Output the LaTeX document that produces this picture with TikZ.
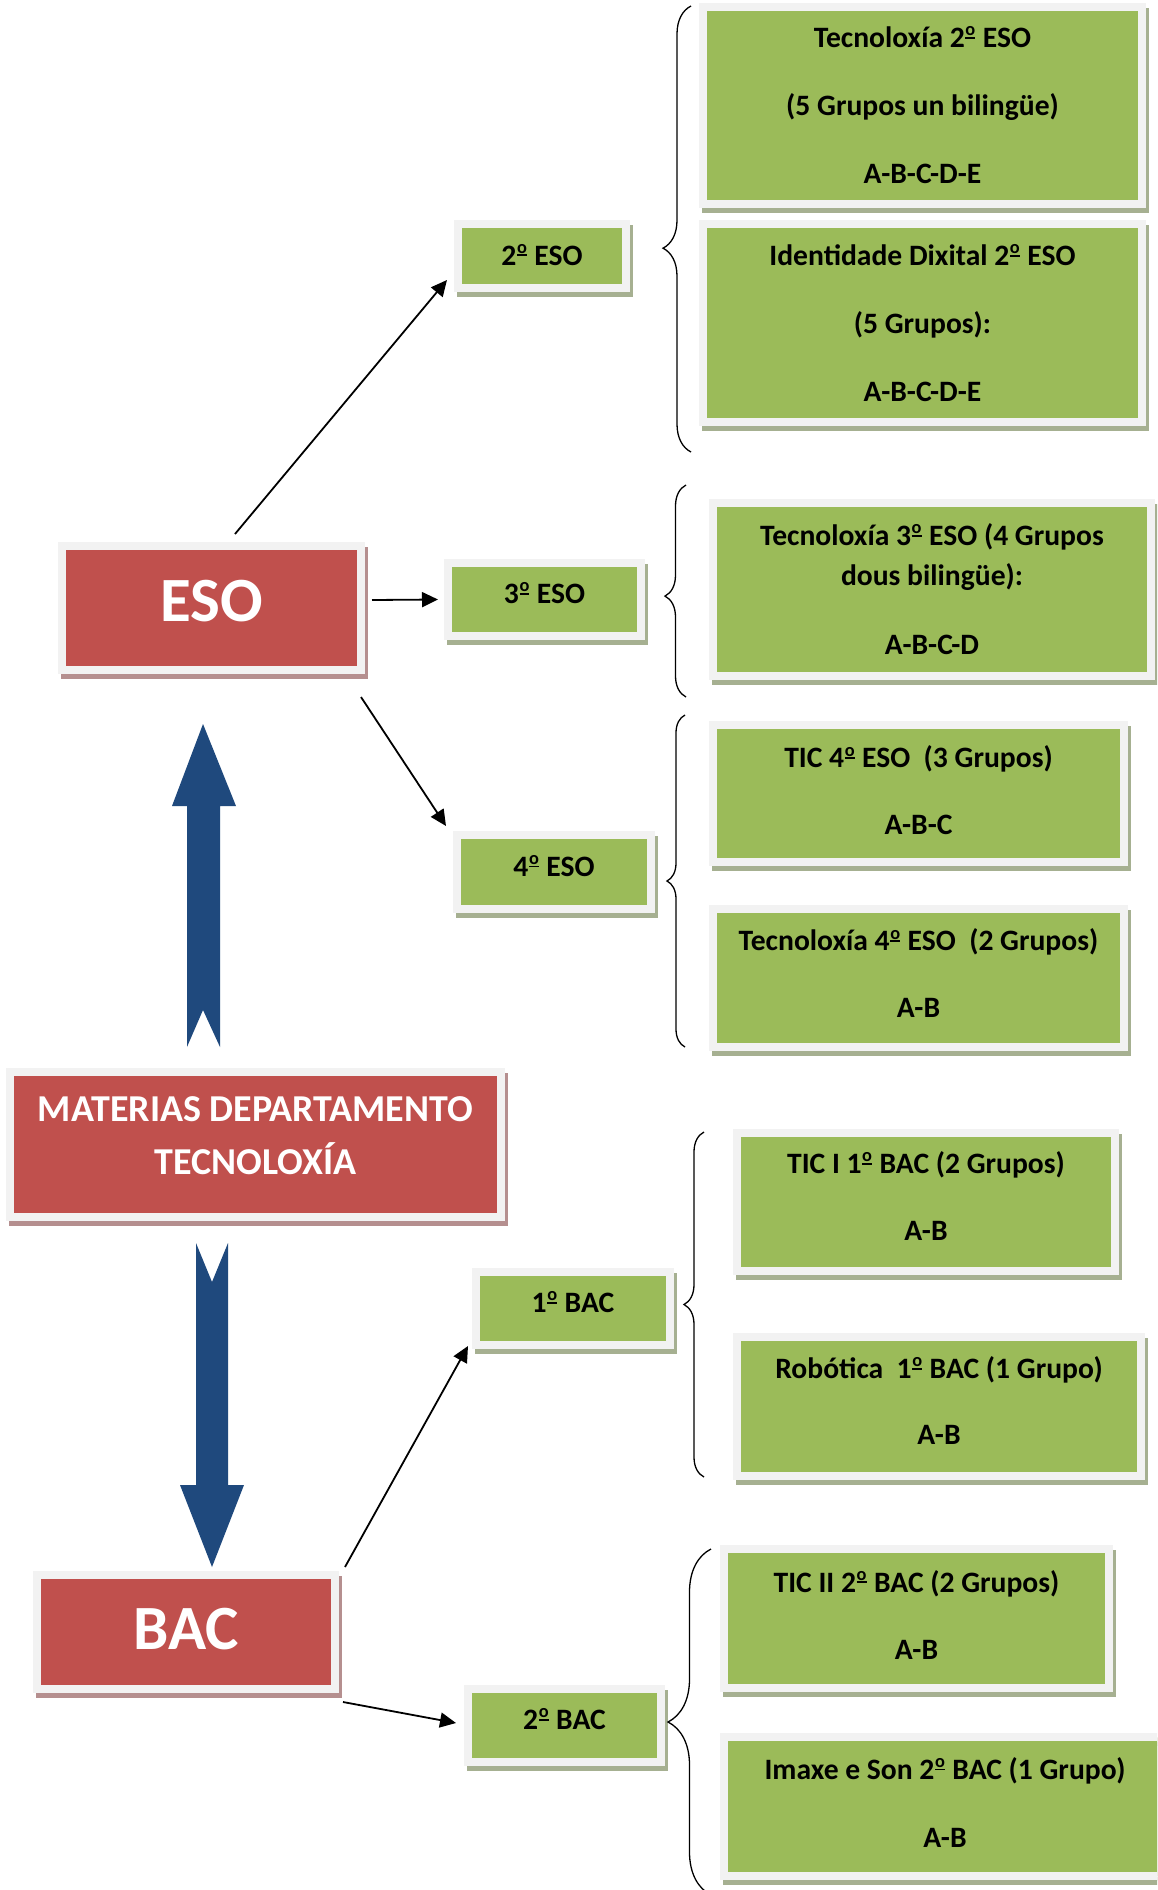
\documentclass[tikz,border=0pt]{standalone}
\usepackage{fontspec}
\setmainfont{Carlito}
\usetikzlibrary{arrows.meta,decorations.pathreplacing,calc}
\definecolor{boxgreen}{HTML}{9BBB59}
\definecolor{boxred}{HTML}{C0504D}
\definecolor{frame}{HTML}{F2F2F2}
\definecolor{gshadow}{HTML}{A6B091}
\definecolor{rshadow}{HTML}{B58F8F}
\definecolor{bigblue}{HTML}{1F497D}
% masculine ordinal drawn as underlined superior o (as in Calibri)
\newcommand\ordo{\kern0.02em\raisebox{0.30em}{\vbox{\hbox{\scalebox{0.62}{o}}\kern0.045em\hrule height 0.055em}}\kern0.03em}
\newcommand\lift[1]{\rule[-#1]{0pt}{#1}}
\begin{document}
\begin{tikzpicture}[x=1pt,y=-1pt,
  boxbase/.style={line width=8pt, draw=frame, inner sep=0pt, outer sep=4pt, align=center},
  gbox/.style={boxbase, fill=boxgreen, text=black,
    preaction={draw=gshadow, fill=gshadow, transform canvas={shift={(3,5)}}},
    font=\fontsize{29.6}{40}\selectfont\bfseries},
  smallbox/.style={gbox, text height=18pt, text depth=10pt},
  rbox/.style={boxbase, fill=boxred, text=white,
    preaction={draw=rshadow, fill=rshadow, transform canvas={shift={(3,5)}}}},
  bigfont/.style={font=\fontsize{63}{70}\selectfont\bfseries},
  conn/.style={line width=1.8pt, -{Triangle[length=16pt,width=15pt]}},
  brc/.style={line width=1.3pt, decorate},
  ]
\path[use as bounding box, clip] (0,0) rectangle (1157,1890);
\fill[white] (0,0) rectangle (1157,1890);

% ESO branch
\node[gbox, minimum width=439pt, minimum height=197pt] (t2) at (922.5,105.5)
  {Tecnoloxía 2\ordo{} ESO\\[28pt](5 Grupos un bilingüe)\\[28pt]A-B-C-D-E};
\node[gbox, minimum width=439pt, minimum height=198pt] (id2) at (922.5,323)
  {Identidade Dixital 2\ordo{} ESO\\[28pt](5 Grupos):\\[28pt]A-B-C-D-E};
\node[gbox, text height=18pt, text depth=0pt, minimum width=168pt, minimum height=64pt] (e2) at (542,256) {2\ordo{} ESO};
\node[rbox, bigfont, text height=40pt, text depth=14pt, minimum width=299pt, minimum height=124pt] (eso) at (211.5,608) {ESO};
\node[smallbox, minimum width=193pt, minimum height=73pt] (e3) at (544.5,599.5) {3\ordo{} ESO};
\node[gbox, minimum width=438pt, minimum height=173pt] (t3) at (932,589.5)
  {Tecnoloxía 3\ordo{} ESO (4 Grupos\\dous bilingüe):\\[29pt]A-B-C-D};
\node[smallbox, minimum width=194pt, minimum height=74pt] (e4) at (554,872) {4\ordo{} ESO};
\node[gbox, minimum width=411pt, minimum height=137pt] (tic4) at (918.5,793.5)
  {TIC 4\ordo{} ESO\ \ (3 Grupos)\\[27pt]A-B-C\lift{6pt}};
\node[gbox, minimum width=411pt, minimum height=138pt] (t4) at (918.5,978)
  {Tecnoloxía 4\ordo{} ESO\ \ (2 Grupos)\\[27pt]A-B\lift{9pt}};

% centre
\node[rbox, font=\fontsize{38}{53}\selectfont\bfseries, minimum width=491pt, minimum height=145pt] (mat) at (255.5,1144.5)
  {MATERIAS DEPARTAMENTO\\TECNOLOXÍA\lift{17pt}};

% BAC branch
\node[rbox, bigfont, text height=40pt, text depth=6pt, minimum width=298pt, minimum height=114pt] (bac) at (186,1632) {BAC};
\node[smallbox, minimum width=194pt, minimum height=73pt] (b1) at (573,1308.5) {1\ordo{} BAC};
\node[gbox, minimum width=378pt, minimum height=138pt] (tic1) at (926,1202)
  {TIC I 1\ordo{} BAC (2 Grupos)\\[27pt]A-B\lift{12pt}};
\node[gbox, minimum width=404pt, minimum height=139pt] (rob) at (939,1406.5)
  {Robótica\ \ 1\ordo{} BAC (1 Grupo)\\[26pt]A-B\lift{12pt}};
\node[smallbox, minimum width=193pt, minimum height=73pt] (b2) at (564.5,1725.5) {2\ordo{} BAC};
\node[gbox, minimum width=385pt, minimum height=139pt] (tic2) at (916.5,1618.5)
  {TIC II 2\ordo{} BAC (2 Grupos)\\[27pt]A-B\lift{8pt}};
\node[gbox, minimum width=442pt, minimum height=139pt] (imx) at (945,1806.5)
  {Imaxe e Son 2\ordo{} BAC (1 Grupo)\\[28pt]A-B\lift{9pt}};

% connectors
\draw[conn] ([xshift=23.5pt,yshift=8pt]eso.north) -- ([xshift=-7pt,yshift=-24pt]e2.west);
\draw[conn] ([xshift=7pt,yshift=8pt]eso.east) -- ([xshift=-6pt]e3.west);
\draw[conn] ([xshift=-4pt,yshift=-23pt]eso.south east) -- ([xshift=-7pt,yshift=5pt]e4.north west);
\draw[conn] ([xshift=6pt,yshift=4pt]bac.north east) -- ([xshift=-4pt,yshift=3pt]b1.south west);
\draw[conn] ([xshift=4pt,yshift=-9pt]bac.south east) -- ([xshift=-8pt,yshift=2.5pt]b2.west);

% braces
\draw[brc, decoration={brace, amplitude=28pt, aspect=0.457}] (691,452) -- (691,6);
\draw[brc, decoration={brace, amplitude=21pt, aspect=0.476}] (686,697) -- (686,485);
\draw[brc, decoration={brace, amplitude=18pt, aspect=0.5}] (685,1047) -- (685,715);
\draw[brc, decoration={brace, amplitude=20pt, aspect=0.5}] (704,1477) -- (704,1132);
\draw[brc, decoration={brace, amplitude=43pt, aspect=0.5}] (711,1895) -- (711,1549);

% big blue arrows
\fill[bigblue] (203,724) -- (236,806) -- (220,806) -- (220,1047) -- (203,1010)
  -- (187,1047) -- (187,806) -- (172,806) -- cycle;
\fill[bigblue] (212,1567) -- (244,1485) -- (228,1485) -- (228,1243) -- (212,1282)
  -- (196,1243) -- (196,1485) -- (180,1485) -- cycle;
\end{tikzpicture}
\end{document}
